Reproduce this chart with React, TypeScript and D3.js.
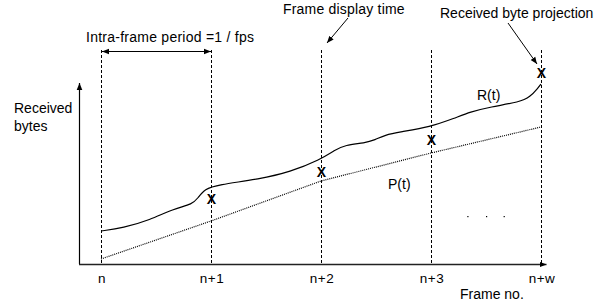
import React from "react";
import * as d3 from "d3";

// ---- data ----
const frameIndex = [0, 1, 2, 3, 4];
const frameLabels = ["n", "n+1", "n+2", "n+3", "n+w"];

// received bytes R(t)
const rTime = [0, 0.2, 0.445, 0.655, 0.836, 0.88, 0.945, 1.055, 1.445, 1.718, 1.99, 2.127, 2.218, 2.4, 2.49, 2.58, 2.718, 2.99, 3.218, 3.355, 3.536, 3.81, 3.9, 3.973, 4];
const rBytes = [33, 36, 44, 55, 60, 66, 75, 79, 85, 92, 104, 114, 119, 121, 124, 129, 132, 137, 146, 152, 157, 162, 167, 176, 180];

// playback P(t)
const pBytes = [5, 43, 83, 111, 137];

// received byte projections (X marks) at frames n+1..n+w
const projFrames = [1, 2, 3, 4];
const projBytes = [65, 92, 124, 191];

// ellipsis dots
const dotFrames = [3.33, 3.5, 3.66];
const dotBytes = [48, 48, 48];

const W = 613;
const H = 306;
const FONT = "'Liberation Sans', Arial, Helvetica, sans-serif";

export default function App() {
  const x = d3.scaleLinear().domain([0, 4]).range([101, 541]);
  const y = d3.scaleLinear().domain([0, 182]).range([264, 82]);

  const axisLeft = x(-0.2);
  const axisRight = x(4.05);
  const axisBottom = y(0);
  const axisTop = y(181);
  const dashTop = 50;

  const rLine = d3
    .line<number>()
    .x((_, i) => x(rTime[i]))
    .y((d) => y(d))
    .curve(d3.curveBasis);

  const pLine = d3
    .line<number>()
    .x((_, i) => x(frameIndex[i]))
    .y((d) => y(d));

  const x2 = x(2);
  const x4 = x(4);

  return (
    <svg
      width={W}
      height={H}
      style={{ position: "absolute", left: 0, top: 0, background: "#fff" }}
      fontFamily={FONT}
    >
      <defs>
        <marker id="ah" viewBox="0 0 10 10" refX="10" refY="5" markerWidth="7" markerHeight="7" orient="auto-start-reverse" markerUnits="userSpaceOnUse">
          <path d="M0,1 L10,5 L0,9 z" fill="#000" />
        </marker>
      </defs>
      <rect x={0} y={0} width={W} height={H} fill="#fff" />

      {/* dashed frame lines */}
      {frameIndex.map((f) => (
        <line key={f} x1={x(f) + 0.5} x2={x(f) + 0.5} y1={dashTop} y2={axisBottom} stroke="#000" strokeWidth={1} strokeDasharray="3,2" />
      ))}

      {/* axes */}
      <line x1={axisLeft + 0.5} x2={axisLeft + 0.5} y1={axisBottom} y2={axisTop} stroke="#000" strokeWidth={1.2} markerEnd="url(#ah)" />
      <line x1={axisLeft} x2={axisRight} y1={axisBottom + 0.5} y2={axisBottom + 0.5} stroke="#222" strokeWidth={1.4} markerEnd="url(#ah)" />

      {/* P(t) dotted */}
      <path d={pLine(pBytes) || ""} fill="none" stroke="#000" strokeWidth={1.2} strokeDasharray="1,1" />

      {/* R(t) */}
      <path d={rLine(rBytes) || ""} fill="none" stroke="#000" strokeWidth={1.2} />

      {/* projections */}
      {projFrames.map((f, i) => (
        <text key={f} x={x(f) + 0.5} y={y(projBytes[i])} dy="0.36em" textAnchor="middle" fontSize={14} fontWeight="bold">X</text>
      ))}

      {/* dots */}
      {dotFrames.map((f, i) => (
        <rect key={i} x={x(f)} y={y(dotBytes[i])} width={1.2} height={1.2} fill="#000" />
      ))}

      {/* tick labels */}
      {frameIndex.map((f, i) => (
        <text key={f} x={x(f) + 1} y={283} textAnchor="middle" fontSize={13.5} letterSpacing={0.5}>{frameLabels[i]}</text>
      ))}

      {/* interval arrow */}
      <line x1={x(0) + 1} x2={x(1)} y1={51.5} y2={51.5} stroke="#000" strokeWidth={1} markerStart="url(#ah)" markerEnd="url(#ah)" />
      <text x={86} y={41.5} fontSize={14} letterSpacing={0.25}>Intra-frame period =1 / fps</text>

      {/* frame display time */}
      <text x={283} y={14} fontSize={14} letterSpacing={0.2}>Frame display time</text>
      <line x1={x2 + 27} y1={18} x2={x2 + 6} y2={43} stroke="#000" strokeWidth={1} markerEnd="url(#ah)" />

      {/* received byte projection */}
      <text x={440} y={18} fontSize={14}>Received byte projection</text>
      <line x1={x4 - 33} y1={23} x2={x4 - 4} y2={64} stroke="#000" strokeWidth={1} markerEnd="url(#ah)" />

      {/* axis titles */}
      <text x={14} y={113} fontSize={14}>Received</text>
      <text x={14} y={131} fontSize={14}>bytes</text>
      <text x={460} y={299} fontSize={14}>Frame no.</text>

      {/* curve labels */}
      <text x={477} y={100} fontSize={14}>R(t)</text>
      <text x={388} y={189} fontSize={14}>P(t)</text>
    </svg>
  );
}
